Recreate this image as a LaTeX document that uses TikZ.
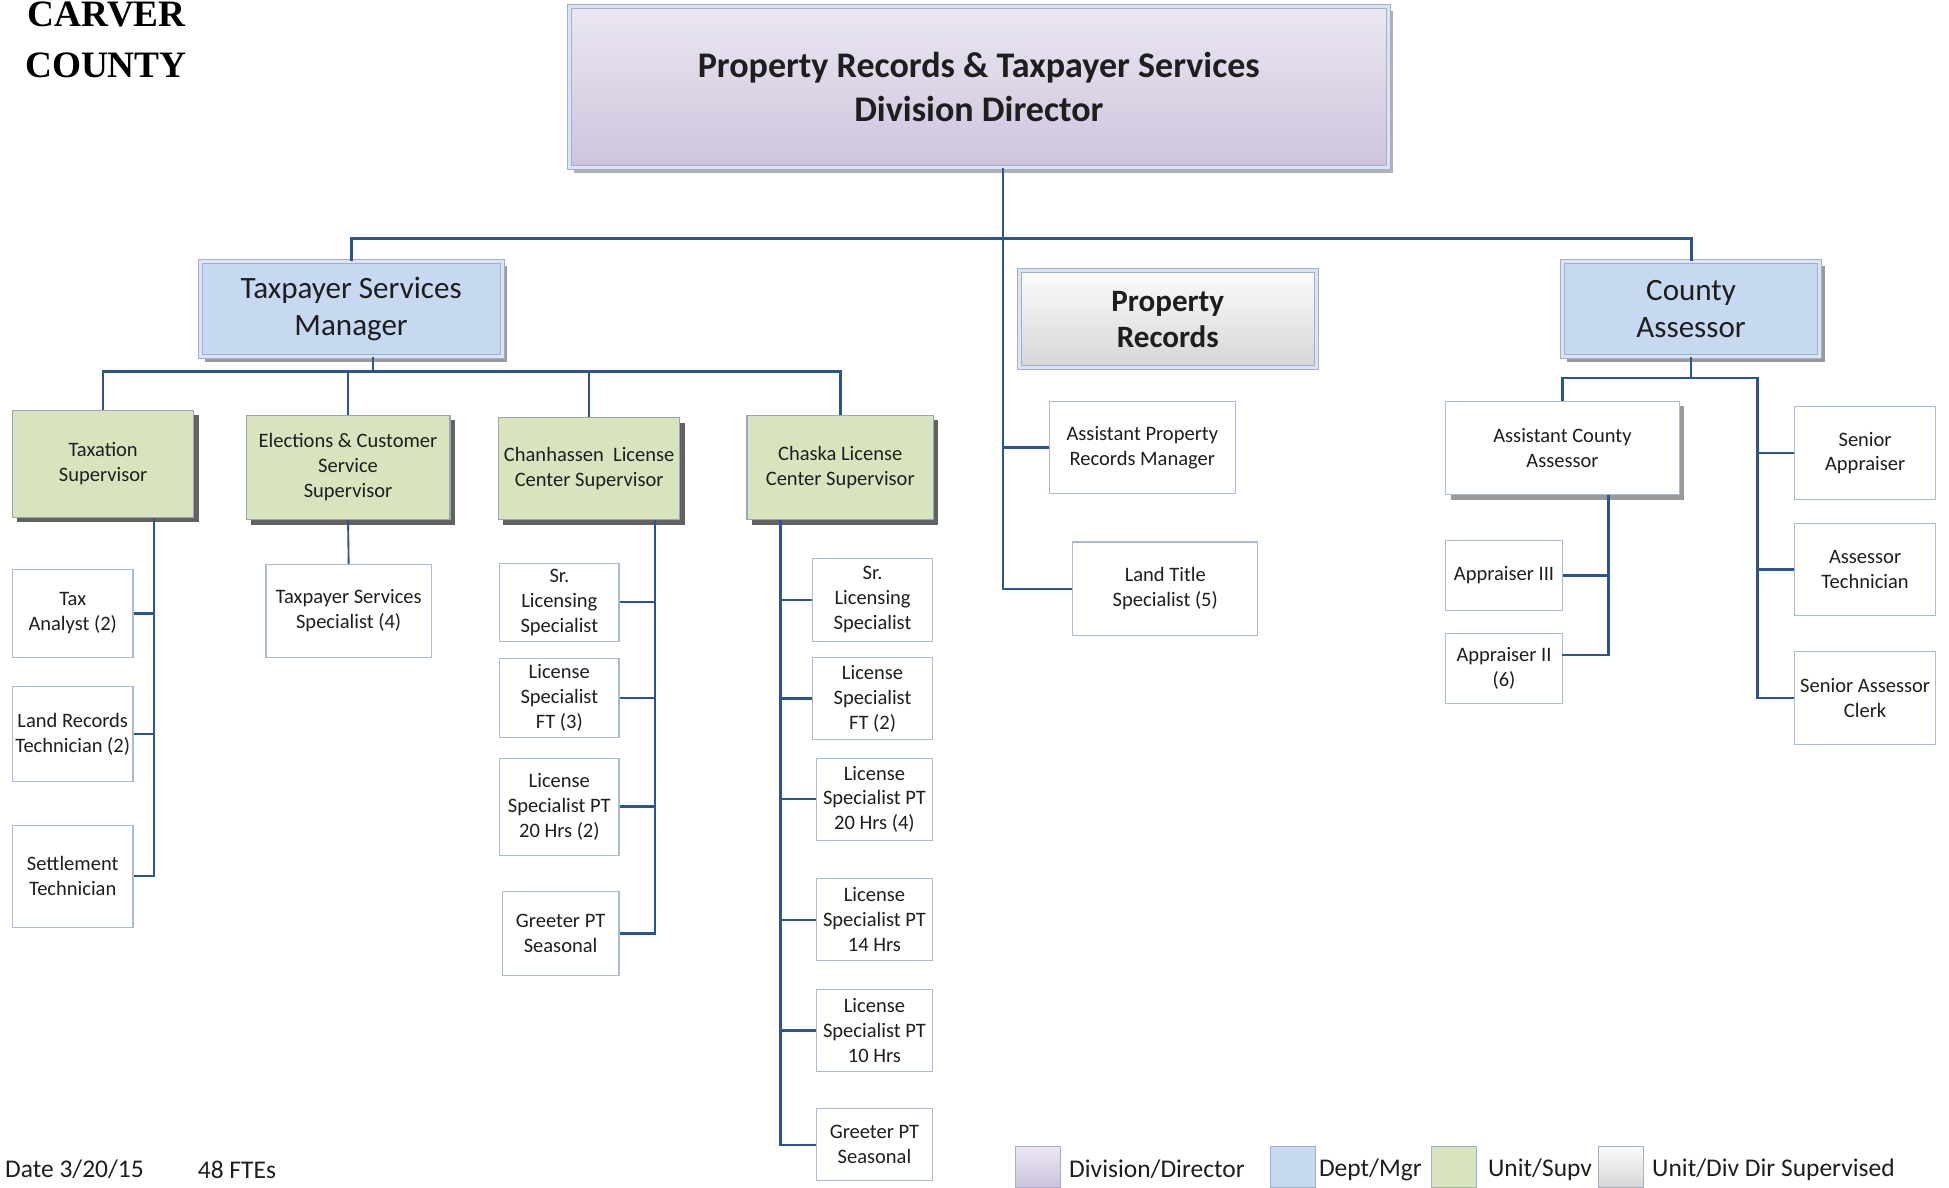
\documentclass[tikz,border=0pt]{standalone}
\usepackage{fontspec}
\setmainfont{Carlito}
\newfontfamily\titlefont{Liberation Serif}
\usetikzlibrary{shadows}
\definecolor{linec}{HTML}{2C5491}
\definecolor{txt}{HTML}{1E1E1E}
\definecolor{wborder}{HTML}{A9B9D6}
\definecolor{gborder}{HTML}{9AA6B8}
\definecolor{dborder}{HTML}{9FB0CE}
\definecolor{dinner}{HTML}{DCE4F2}
\definecolor{unitgreen}{HTML}{D8E4BE}
\definecolor{deptblue}{HTML}{C6D9F1}
\definecolor{lavtop}{HTML}{EBE7F2}
\definecolor{lavbot}{HTML}{CDC4DC}
\definecolor{graytop}{HTML}{FBFBFB}
\definecolor{graybot}{HTML}{D6D6D6}
\definecolor{shadowdark}{HTML}{626262}
\definecolor{shadowmid}{HTML}{9A9A9A}
\definecolor{shadowlight}{HTML}{B0B0B0}
\tikzset{
  conn/.style={draw=linec, line width=2pt},
  wbox/.style={draw=wborder, line width=0.9pt, fill=white, inner sep=0pt, align=center, text=txt,
    font=\fontsize{16.5}{20}\selectfont},
  shd/.style={drop shadow={shadow xshift=4pt, shadow yshift=-4pt, fill=#1, opacity=1}},
  gbox/.style={wbox, fill=unitgreen, draw=gborder, shd=shadowdark},
  dbox/.style={wbox, draw=dborder, line width=0.8pt, double=dinner, double distance=2.4pt,
    font=\fontsize{25}{30}\selectfont},
  lgbox/.style={draw=dborder, line width=0.8pt, minimum width=36, minimum height=33, inner sep=0pt},
  lgtext/.style={anchor=west, text=txt, font=\fontsize{20.5}{24}\selectfont, inner sep=0pt},
}
\begin{document}
\begin{tikzpicture}[x=1pt,y=-1pt]
\useasboundingbox (0,0) rectangle (1568,955);

% title
\node[anchor=base west, inner sep=0pt, font=\titlefont\bfseries\fontsize{30}{36}\selectfont, text=black] (t1) at (22,21) {CARVER};
\node[anchor=base west, inner sep=0pt, font=\titlefont\bfseries\fontsize{30}{36}\selectfont, text=black] (t2) at (20,62) {COUNTY};

% top level boxes
\node[dbox, top color=lavtop, bottom color=lavbot, shd=shadowlight, minimum width=659, minimum height=130,
  font=\bfseries\fontsize{29}{35}\selectfont] (dir) at (787.5,70) {Property Records \& Taxpayer Services\\Division Director};
\node[dbox, fill=deptblue, shd=shadowmid, minimum width=243, minimum height=77] (tsm) at (282.5,248.5) {Taxpayer Services\\Manager};
\node[dbox, top color=graytop, bottom color=graybot, minimum width=239, minimum height=78,
  font=\bfseries\fontsize{25}{29}\selectfont] (pr) at (939.5,257) {Property\\Records};
\node[dbox, fill=deptblue, shd=shadowmid, minimum width=207, minimum height=77] (ca) at (1360.5,248.5) {County\\Assessor};

% unit supervisors
\node[gbox, minimum width=146, minimum height=86] (tax) at (83,373) {Taxation\\Supervisor};
\node[gbox, minimum width=164, minimum height=84] (elec) at (280,376) {Elections \& Customer\\Service\\Supervisor};
\node[gbox, minimum width=146, minimum height=82] (chan) at (474,377) {Chanhassen\ \ License\\Center Supervisor};
\node[gbox, minimum width=150, minimum height=84] (chask) at (676,376) {Chaska License\\Center Supervisor};

% taxation staff
\node[wbox, minimum width=97, minimum height=71] (taxan) at (58.5,493.5) {Tax\\Analyst (2)};
\node[wbox, minimum width=97, minimum height=77] (landrec) at (58.5,590.5) {Land Records\\Technician (2)};
\node[wbox, minimum width=97, minimum height=82] (settle) at (58.5,705) {Settlement\\Technician};

% elections staff
\node[wbox, minimum width=133, minimum height=75] (tss) at (280.5,491.5) {Taxpayer Services\\Specialist (4)};

% chanhassen staff
\node[wbox, minimum width=96, minimum height=63] (c1) at (450,484.5) {Sr.\\Licensing\\Specialist};
\node[wbox, minimum width=96, minimum height=63] (c2) at (450,561.5) {License\\Specialist\\FT (3)};
\node[wbox, minimum width=96, minimum height=78] (c3) at (450,649) {License\\Specialist PT\\20 Hrs (2)};
\node[wbox, minimum width=94, minimum height=68] (c4) at (451,751) {Greeter PT\\Seasonal};

% chaska staff
\node[wbox, minimum width=96, minimum height=67] (k1) at (702,482.5) {Sr.\\Licensing\\Specialist};
\node[wbox, minimum width=96, minimum height=66] (k2) at (702,562) {License\\Specialist\\FT (2)};
\node[wbox, minimum width=93, minimum height=66] (k3) at (703.5,643) {License\\Specialist PT\\20 Hrs (4)};
\node[wbox, minimum width=93, minimum height=66] (k4) at (703.5,740) {License\\Specialist PT\\14 Hrs};
\node[wbox, minimum width=93, minimum height=66] (k5) at (703.5,829) {License\\Specialist PT\\10 Hrs};
\node[wbox, minimum width=93, minimum height=58] (k6) at (703.5,921) {Greeter PT\\Seasonal};

% property records staff
\node[wbox, minimum width=150, minimum height=74] (apr) at (919,360) {Assistant Property\\Records Manager};
\node[wbox, minimum width=149, minimum height=75] (lts) at (937.5,473.5) {Land Title\\Specialist (5)};

% assessor staff
\node[wbox, shd=shadowmid, minimum width=188, minimum height=75] (aca) at (1257,360.5) {Assistant County\\Assessor};
\node[wbox, minimum width=94, minimum height=56] (a3) at (1210,463) {Appraiser III};
\node[wbox, minimum width=94, minimum height=56] (a2) at (1210,538) {Appraiser II\\(6)};
\node[wbox, minimum width=113, minimum height=75] (sa) at (1500.5,364.5) {Senior\\Appraiser};
\node[wbox, minimum width=113, minimum height=74] (at) at (1500.5,458) {Assessor\\Technician};
\node[wbox, minimum width=113, minimum height=75] (sac) at (1500.5,561.5) {Senior Assessor\\Clerk};

% helper coordinates
\coordinate (d0) at (807,135);
\coordinate (tsmb) at (300,287);
\coordinate (bus1) at (0,299);
\coordinate (txl) at (124,0);
\coordinate (chl) at (527,0);
\coordinate (kl) at (628,0);
\coordinate (cab) at (0,304);
\coordinate (car) at (1414,0);
\coordinate (acl) at (1294,0);
\coordinate (a2b) at (1257,527);

% connectors: division level
\draw[conn, line width=1.6pt] (d0) -- (d0 |- lts.west) -- (lts.west);
\draw[conn] (d0 |- apr.west) -- (apr.west);
\draw[conn, line width=2.4pt] (tsm.north) -- ++(0,-18) -| (ca.north);

% taxpayer services manager
\draw[conn] (tsmb) -- (tsmb |- bus1);
\draw[conn] (tax.north) -- (tax.north |- bus1) -- (chask.north |- bus1) -- (chask.north);
\draw[conn] (elec.north) -- (elec.north |- bus1);
\draw[conn] (chan.north) -- (chan.north |- bus1);

% taxation
\draw[conn, line width=1.6pt] (tax.south -| txl) -- (settle.east -| txl) -- (settle.east);
\draw[conn] (taxan.east) -- (taxan.east -| txl);
\draw[conn] (landrec.east) -- (landrec.east -| txl);

% elections
\draw[conn, line width=1.5pt] (elec.south) -- (tss.north);

% chanhassen
\draw[conn] (chan.south -| chl) -- (c4.east -| chl) -- (c4.east);
\draw[conn] (c1.east) -- (c1.east -| chl);
\draw[conn] (c2.east) -- (c2.east -| chl);
\draw[conn] (c3.east) -- (c3.east -| chl);

% chaska
\draw[conn] (chask.south -| kl) -- (k6.east -| kl) -- (k6.west);
\draw[conn] (k1.west) -- (k1.west -| kl);
\draw[conn] (k2.west) -- (k2.west -| kl);
\draw[conn] (k3.west) -- (k3.west -| kl);
\draw[conn] (k4.west) -- (k4.west -| kl);
\draw[conn] (k5.west) -- (k5.west -| kl);

% county assessor
\draw[conn] (ca.south) -- (ca.south |- cab);
\draw[conn] (aca.north) -- (aca.north |- cab) -- (cab -| car) -- (sac.west -| car) -- (sac.west);
\draw[conn] (sa.west) -- (sa.west -| car);
\draw[conn] (at.west) -- (at.west -| car);
\draw[conn] (aca.south -| acl) -- (a2b -| acl) -- (a2b);
\draw[conn] (a3.east) -- (a3.east -| acl);

% footer
\node[lgtext] (date) at (4,941) {Date 3/20/15};
\node[lgtext] (fte) at (159,941) {48 FTEs};

% legend
\node[lgbox, top color=lavtop, bottom color=lavbot] (lg1) at (835,938.5) {};
\node[lgtext] (lt1) at (860,941) {Division/Director};
\node[lgbox, fill=deptblue] (lg2) at (1040,938.5) {};
\node[lgtext] (lt2) at (1061,941) {Dept/Mgr};
\node[lgbox, fill=unitgreen] (lg3) at (1170,938.5) {};
\node[lgtext] (lt3) at (1197,941) {Unit/Supv};
\node[lgbox, top color=graytop, bottom color=graybot] (lg4) at (1304,938.5) {};
\node[lgtext] (lt4) at (1329,941) {Unit/Div Dir Supervised};
\end{tikzpicture}
\end{document}
